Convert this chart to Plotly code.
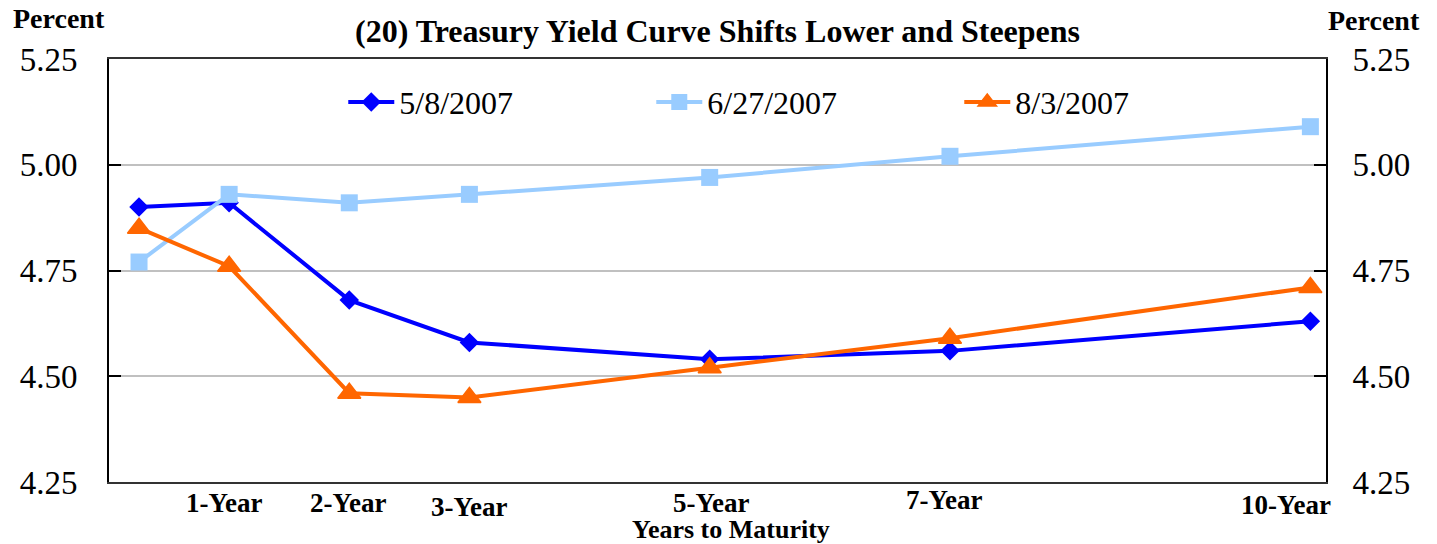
import plotly.graph_objects as go

# maturities in years (first point = 3-month bill)
maturity = [0.25, 1, 2, 3, 5, 7, 10]
tick_years = [1, 2, 3, 5, 7, 10]
tick_text = ["1-Year", "2-Year", "3-Year", "5-Year", "7-Year", "10-Year"]

may_08 = [4.90, 4.91, 4.68, 4.58, 4.54, 4.56, 4.63]
jun_27 = [4.77, 4.93, 4.91, 4.93, 4.97, 5.02, 5.09]
aug_03 = [4.85, 4.76, 4.46, 4.45, 4.52, 4.59, 4.71]

y_ticks = [4.25, 4.50, 4.75, 5.00, 5.25]

SERIF = "Liberation Serif"

fig = go.Figure()

fig.add_trace(go.Scatter(
    x=maturity, y=may_08, name="5/8/2007", mode="lines+markers",
    line=dict(color="#0000FF", width=4),
    marker=dict(symbol="diamond", size=15, color="#0000FF"),
))
fig.add_trace(go.Scatter(
    x=maturity, y=jun_27, name="6/27/2007", mode="lines+markers",
    line=dict(color="#99CCFF", width=4),
    marker=dict(symbol="square", size=17, color="#99CCFF"),
))
fig.add_trace(go.Scatter(
    x=maturity, y=aug_03, name="8/3/2007", mode="lines+markers",
    line=dict(color="#FF6600", width=4),
    marker=dict(symbol="triangle-up", size=20, color="#FF6600",
                line=dict(color="#FF6600", width=1.5)),
))
# right-hand axis copy
fig.add_trace(go.Scatter(
    x=maturity, y=may_08, yaxis="y2", mode="lines",
    line=dict(width=0), opacity=0, showlegend=False, hoverinfo="skip",
))

yax = dict(
    range=[4.25, 5.25], tickvals=y_ticks, tickformat=".2f",
    ticks="inside", ticklen=12, tickwidth=2, tickcolor="black",
    showline=True, linecolor="black", linewidth=2,
    showgrid=True, gridcolor="#C0C0C0", gridwidth=2,
    zeroline=False, ticklabelstandoff=23,
    tickfont=dict(family=SERIF, size=33, color="black"),
)

# page body has an 8px margin, so the figure is sized/offset for it
fig.update_layout(
    width=1429, height=536,
    margin=dict(l=92, r=111, t=51, b=62),
    paper_bgcolor="white", plot_bgcolor="white",
    font=dict(family=SERIF, color="black"),
    xaxis=dict(range=[0, 10.13], showticklabels=False, ticks="",
               showgrid=False, zeroline=False, showline=True,
               linecolor="#333333", linewidth=2, mirror=True),
    yaxis=yax,
    yaxis2=dict(yax, overlaying="y", side="right", showgrid=False,
                ticklabelstandoff=18),
    showlegend=True,
    legend=dict(orientation="h", x=0.1925, y=0.898, xanchor="left", yanchor="middle",
                itemwidth=46, entrywidth=247, entrywidthmode="pixels",
                font=dict(family=SERIF, size=32, color="black"),
                bgcolor="rgba(0,0,0,0)"),
)

# chart title and unit labels
fig.add_annotation(text="<b>(20) Treasury Yield Curve Shifts Lower and Steepens</b>",
                   xref="paper", yref="paper", x=0.5, y=1.0, yshift=28,
                   xanchor="center", yanchor="middle",
                   showarrow=False, font=dict(family=SERIF, size=32))
fig.add_annotation(text="<b>Percent</b>", xref="paper", yref="paper",
                   x=0, y=1, xshift=-50, yshift=41, xanchor="center", yanchor="middle",
                   showarrow=False, font=dict(family=SERIF, size=28))
fig.add_annotation(text="<b>Percent</b>", xref="paper", yref="paper",
                   x=1, y=1, xshift=48, yshift=39, xanchor="center", yanchor="middle",
                   showarrow=False, font=dict(family=SERIF, size=28))

# staggered maturity labels
label_dy = [0, 0, -4, 0, 3, -2]
label_dx = [-5, -1, 0, 1, -6, -24]
for yr, txt, dy, dx in zip(tick_years, tick_text, label_dy, label_dx):
    fig.add_annotation(text="<b>" + txt + "</b>", xref="x", yref="paper",
                       x=yr, y=0, yshift=-21 + dy, xshift=dx,
                       xanchor="center", yanchor="middle",
                       showarrow=False, font=dict(family=SERIF, size=27))
fig.add_annotation(text="<b>Years to Maturity</b>", xref="paper", yref="paper",
                   x=0.511, y=0, yshift=-47, xanchor="center", yanchor="middle",
                   showarrow=False, font=dict(family=SERIF, size=26))

fig.write_html("out.html")
